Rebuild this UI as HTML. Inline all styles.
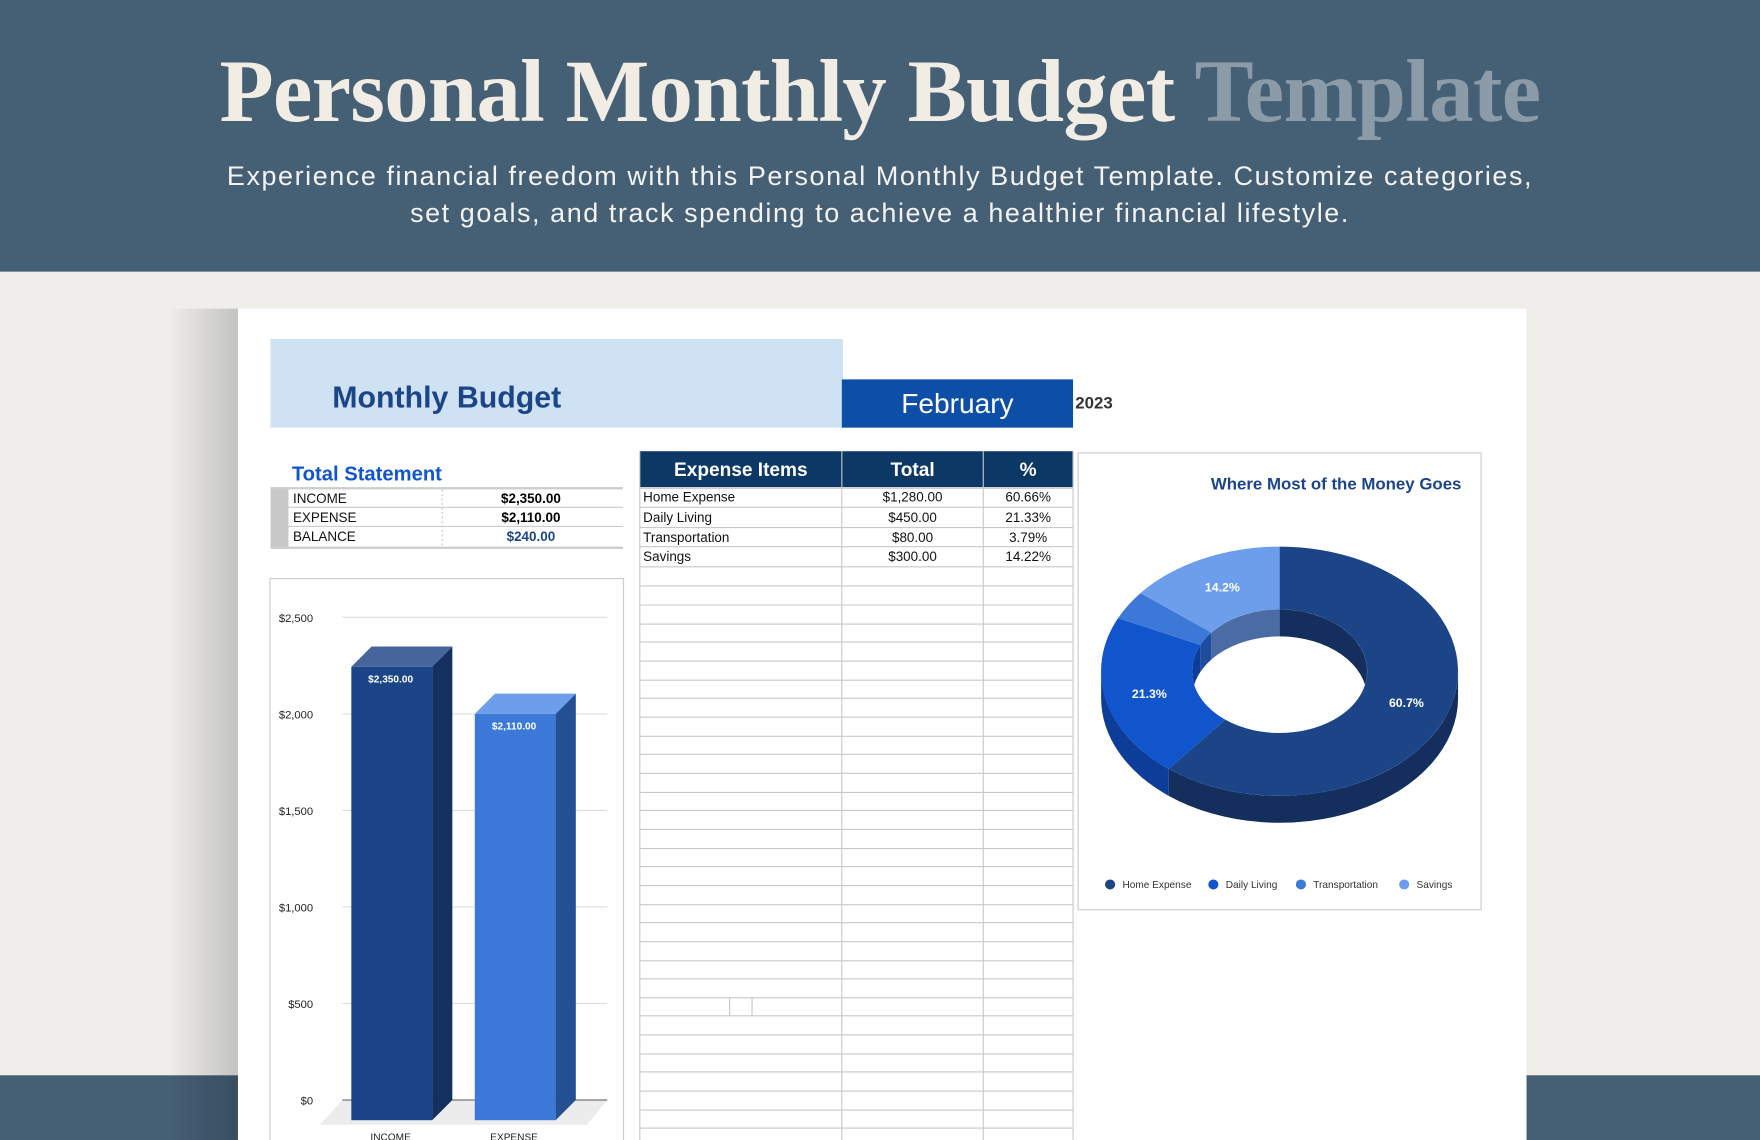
<!DOCTYPE html>
<html><head><meta charset="utf-8"><style>
html,body{margin:0;padding:0;width:1760px;height:1140px;overflow:hidden;background:#efeeea}
#w{position:absolute;left:0;top:0;width:1568px;height:1016px;transform:scale(1.12245);transform-origin:0 0;font-family:"Liberation Sans",sans-serif}
.a{position:absolute}
</style></head><body><div id="w">
<div class="a" style="left:0;top:0;width:1568px;height:242px;background:#455f75"></div>
<div class="a" style="left:0;top:38px;width:1568px;text-align:center;font-family:'Liberation Serif',serif;font-weight:bold;font-size:79px;color:#f1ede5;letter-spacing:-0.6px;line-height:90px">Personal Monthly Budget <span style="color:#8b9ba7">Template</span></div>
<div class="a" style="left:0;top:141px;width:1568px;text-align:center;font-size:24px;color:#f3f3f3;line-height:33px;letter-spacing:1.4px">Experience financial freedom with this Personal Monthly Budget Template. Customize categories,<br>set goals, and track spending to achieve a healthier financial lifestyle.</div>
<div class="a" style="left:0;top:958px;width:1568px;height:58px;background:#455f75"></div>
<div class="a" style="left:150px;top:275px;width:62px;height:741px;background:linear-gradient(90deg,rgba(0,0,0,0),rgba(0,0,0,0.18))"></div>
<div class="a" style="left:212px;top:275px;width:1148px;height:741px;background:#fff"></div>
<div class="a" style="left:241px;top:302px;width:510px;height:79px;background:#cfe2f3"></div>
<div class="a" style="left:296px;top:339px;font-size:27px;font-weight:bold;color:#1c4587">Monthly Budget</div>
<div class="a" style="left:750px;top:338px;width:206px;height:43px;background:#0d4ea6;color:#fff;font-size:25px;text-align:center;line-height:44px">February</div>
<div class="a" style="left:958px;top:351px;font-size:15px;font-weight:bold;color:#333">2023</div>
<div class="a" style="left:260px;top:412px;font-size:18px;font-weight:bold;color:#1155cc">Total Statement</div>
<svg class="a" style="left:0;top:0" width="1568" height="1016" font-family="Liberation Sans, sans-serif">
<rect x="241" y="435" width="16" height="53" fill="#c8c8c8"/>
<g stroke="#ccc"><line x1="241" y1="435" x2="555" y2="435" stroke-width="2"/><line x1="257" y1="452" x2="555" y2="452"/><line x1="257" y1="469" x2="555" y2="469"/><line x1="241" y1="488" x2="555" y2="488" stroke-width="2"/></g>
<line x1="394" y1="436" x2="394" y2="487" stroke="#ccc" stroke-dasharray="2,2"/>
<g font-size="12" fill="#111"><text x="261" y="448">INCOME</text><text x="261" y="465">EXPENSE</text><text x="261" y="482">BALANCE</text></g>
<g font-size="12" font-weight="bold" text-anchor="middle"><text x="473" y="448">$2,350.00</text><text x="473" y="465">$2,110.00</text><text x="473" y="482" fill="#1c4587">$240.00</text></g>
<rect x="570" y="402" width="386" height="32" fill="#0b3864"/>
<g fill="#fff" font-size="17" font-weight="bold" text-anchor="middle"><text x="660" y="424">Expense Items</text><text x="813" y="424">Total</text><text x="916" y="424">%</text></g>
<g stroke="#c8c8c8">
<line x1="570" y1="402" x2="570" y2="1016"/><line x1="750" y1="402" x2="750" y2="1016"/><line x1="876" y1="402" x2="876" y2="1016"/><line x1="956" y1="402" x2="956" y2="1016"/>
<line x1="570" y1="435" x2="956" y2="435"/><line x1="570" y1="452" x2="956" y2="452"/><line x1="570" y1="470" x2="956" y2="470"/><line x1="570" y1="487" x2="956" y2="487"/><line x1="570" y1="505" x2="956" y2="505"/><line x1="570" y1="522" x2="956" y2="522"/><line x1="570" y1="539" x2="956" y2="539"/><line x1="570" y1="556" x2="956" y2="556"/><line x1="570" y1="572" x2="956" y2="572"/><line x1="570" y1="589" x2="956" y2="589"/><line x1="570" y1="606" x2="956" y2="606"/><line x1="570" y1="622" x2="956" y2="622"/><line x1="570" y1="639" x2="956" y2="639"/><line x1="570" y1="656" x2="956" y2="656"/><line x1="570" y1="672" x2="956" y2="672"/><line x1="570" y1="689" x2="956" y2="689"/><line x1="570" y1="706" x2="956" y2="706"/><line x1="570" y1="722" x2="956" y2="722"/><line x1="570" y1="739" x2="956" y2="739"/><line x1="570" y1="756" x2="956" y2="756"/><line x1="570" y1="772" x2="956" y2="772"/><line x1="570" y1="789" x2="956" y2="789"/><line x1="570" y1="806" x2="956" y2="806"/><line x1="570" y1="822" x2="956" y2="822"/><line x1="570" y1="839" x2="956" y2="839"/><line x1="570" y1="856" x2="956" y2="856"/><line x1="570" y1="872" x2="956" y2="872"/><line x1="570" y1="889" x2="956" y2="889"/><line x1="570" y1="905" x2="956" y2="905"/><line x1="570" y1="922" x2="956" y2="922"/><line x1="570" y1="939" x2="956" y2="939"/><line x1="570" y1="955" x2="956" y2="955"/><line x1="570" y1="972" x2="956" y2="972"/><line x1="570" y1="989" x2="956" y2="989"/><line x1="570" y1="1005" x2="956" y2="1005"/>
<line x1="650" y1="889" x2="650" y2="905"/><line x1="670" y1="889" x2="670" y2="905"/>
</g>
<g font-size="12" fill="#111"><text x="573" y="447">Home Expense</text><text x="573" y="465">Daily Living</text><text x="573" y="483">Transportation</text><text x="573" y="500">Savings</text></g>
<g font-size="12" fill="#111" text-anchor="middle"><text x="813" y="447">$1,280.00</text><text x="813" y="465">$450.00</text><text x="813" y="483">$80.00</text><text x="813" y="500">$300.00</text>
<text x="916" y="447">60.66%</text><text x="916" y="465">21.33%</text><text x="916" y="483">3.79%</text><text x="916" y="500">14.22%</text></g>
<rect x="240.5" y="515.5" width="315" height="510" fill="#fff" stroke="#ccc"/>
<g stroke="#ddd"><line x1="305" y1="550" x2="541" y2="550"/><line x1="305" y1="636" x2="541" y2="636"/><line x1="305" y1="722" x2="541" y2="722"/><line x1="305" y1="808" x2="541" y2="808"/><line x1="305" y1="894" x2="541" y2="894"/></g>
<polygon points="305,980 541,980 523,1002 285,1002" fill="#ececec"/>
<line x1="305" y1="980" x2="541" y2="980" stroke="#555"/>
<g font-size="10" fill="#222" text-anchor="end"><text x="279" y="554">$2,500</text><text x="279" y="640">$2,000</text><text x="279" y="726">$1,500</text><text x="279" y="812">$1,000</text><text x="279" y="898">$500</text><text x="279" y="984">$0</text></g>
<rect x="313" y="594" width="72" height="404" fill="#1c4587"/>
<polygon points="385,594 403,576 403,980 385,998" fill="#13305e"/>
<polygon points="313,594 331,576 403,576 385,594" fill="#46659c"/>
<rect x="423" y="636" width="72" height="362" fill="#3c78d8"/>
<polygon points="495,636 513,618 513,980 495,998" fill="#254f93"/>
<polygon points="423,636 441,618 513,618 495,636" fill="#6d9eeb"/>
<g font-size="9" font-weight="bold" fill="#fff" text-anchor="middle"><text x="348" y="608">$2,350.00</text><text x="458" y="650">$2,110.00</text></g>
<g font-size="9" fill="#222" text-anchor="middle"><text x="348" y="1016">INCOME</text><text x="458" y="1016">EXPENSE</text></g>
<rect x="960.5" y="403.5" width="359" height="407" fill="#fff" stroke="#ccc"/>
<text x="1302" y="436" font-size="15" font-weight="bold" fill="#1c4587" text-anchor="end">Where Most of the Money Goes</text>
<path d="M1299,598 A159,111 0 0 1 1041.2,685 L1041.2,709 A159,111 0 0 0 1299,622 Z" fill="#142f5e"/>
<path d="M1041.2,685 A159,111 0 0 1 981,598 L981,622 A159,111 0 0 0 1041.2,709 Z" fill="#0b3d99"/>
<path d="M1140,487 A159,111 0 1 1 1041.2,685 L1091.6,641.1 A78,55 0 1 0 1140,543 Z" fill="#1c4587"/>
<path d="M1041.2,685 A159,111 0 0 1 996.1,550.7 L1069.4,574.6 A78,55 0 0 0 1091.6,641.1 Z" fill="#1155cc"/>
<path d="M996.1,550.7 A159,111 0 0 1 1016.1,528.4 L1079.2,563.5 A78,55 0 0 0 1069.4,574.6 Z" fill="#3c78d8"/>
<path d="M1016.1,528.4 A159,111 0 0 1 1140,487 L1140,543 A78,55 0 0 0 1079.2,563.5 Z" fill="#6d9eeb"/>
<clipPath id="h"><ellipse cx="1140" cy="598" rx="78" ry="55"/></clipPath>
<g clip-path="url(#h)">
<rect x="1140" y="540" width="80" height="120" fill="#142f5e"/>
<rect x="1079.2" y="540" width="60.8" height="120" fill="#4a6ba3"/>
<rect x="1069.4" y="540" width="9.8" height="120" fill="#1e4d9e"/>
<rect x="1060" y="540" width="9.4" height="120" fill="#0b3d99"/>
<ellipse cx="1140" cy="622" rx="78" ry="55" fill="#fff"/>
</g>
<g font-size="11" font-weight="bold" fill="#fff" text-anchor="middle"><text x="1253" y="630">60.7%</text><text x="1024" y="622">21.3%</text><text x="1089" y="527">14.2%</text></g>
<circle cx="989" cy="788" r="4.5" fill="#1c4587"/><circle cx="1081" cy="788" r="4.5" fill="#1155cc"/><circle cx="1159" cy="788" r="4.5" fill="#3c78d8"/><circle cx="1251" cy="788" r="4.5" fill="#6d9eeb"/>
<g font-size="9" fill="#333"><text x="1000" y="791">Home Expense</text><text x="1092" y="791">Daily Living</text><text x="1170" y="791">Transportation</text><text x="1262" y="791">Savings</text></g>
</svg>
</div></body></html>
